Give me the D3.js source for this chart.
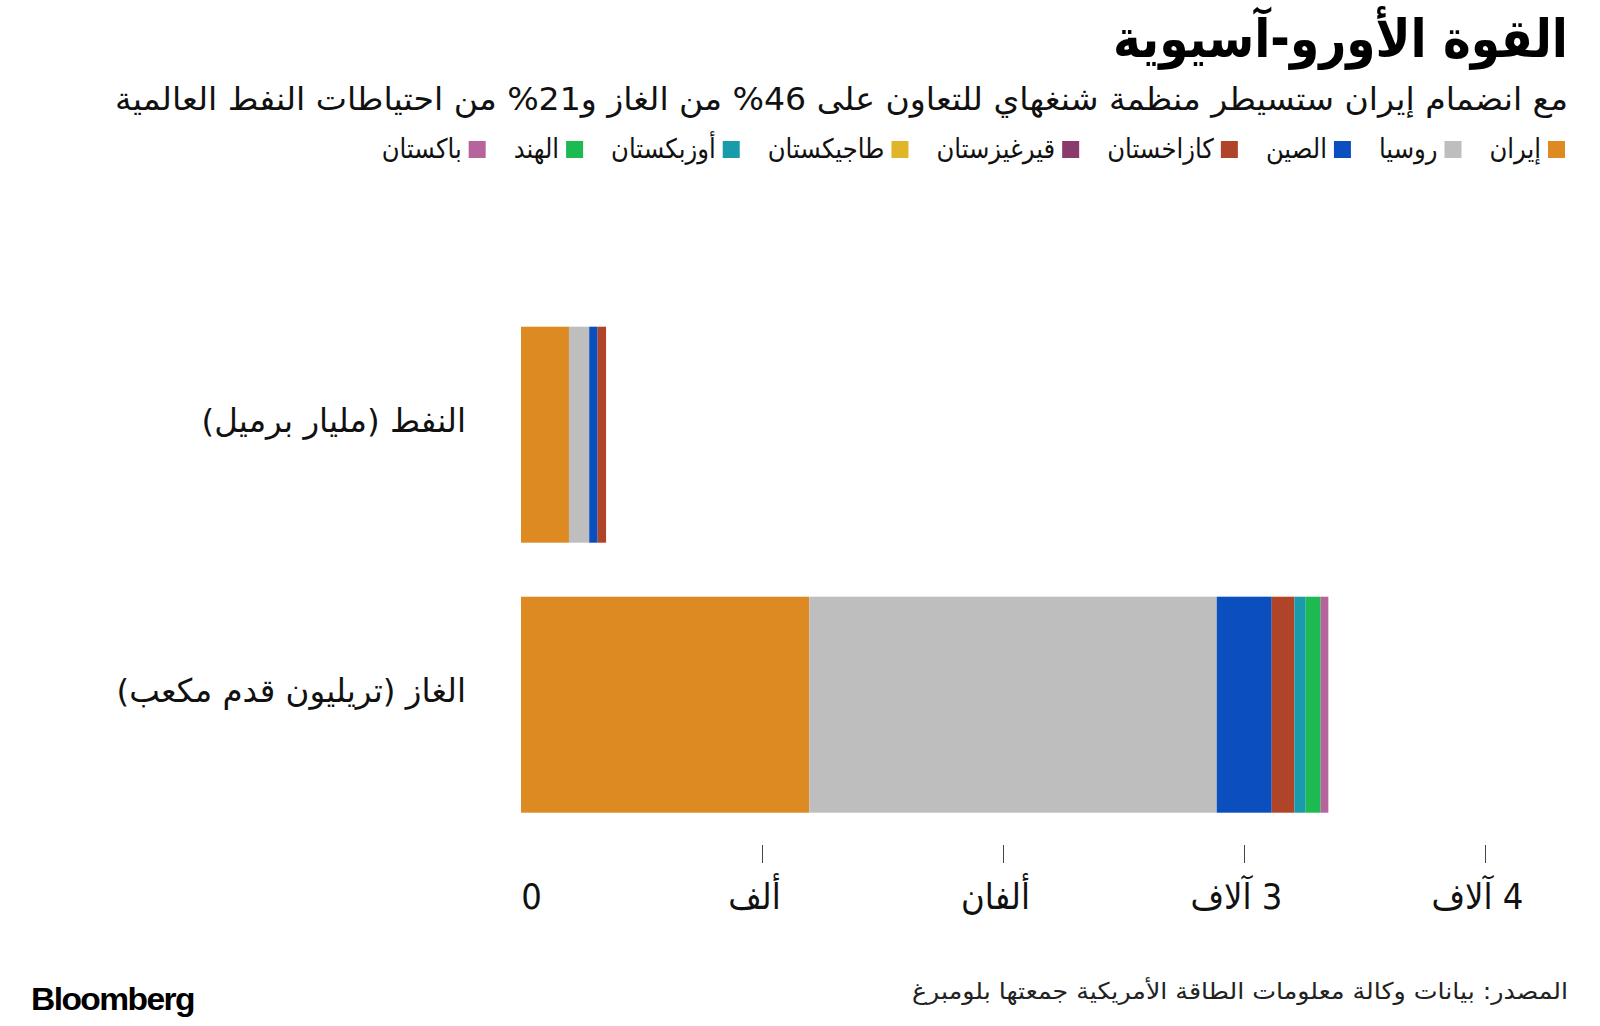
<!DOCTYPE html>
<html lang="ar">
<head>
<meta charset="utf-8">
<script src="https://cdn.jsdelivr.net/npm/d3@7"></script>
<style>
  html, body { margin: 0; padding: 0; background: #fff; }
  svg { display: block; }
  text { font-family: "DejaVu Sans", sans-serif; }
</style>
</head>
<body>
<svg id="chart" width="1600" height="1026"></svg>
<script>
// ---------- data ----------
const categories = ["النفط (مليار برميل)", "الغاز (تريليون قدم مكعب)"];
const countries = ["إيران", "روسيا", "الصين", "كازاخستان", "قيرغيزستان", "طاجيكستان", "أوزبكستان", "الهند", "باكستان"];
const colors = ["#dd8a22", "#bebebe", "#0a4fbd", "#b04428", "#8b3a6c", "#e0b52a", "#1a9bab", "#1dba52", "#b8649c"];
const oilValues = [199, 84, 35, 35, 0, 0, 0, 0, 0];
const gasValues = [1196, 1691, 228, 94, 0, 0, 47, 62, 32];
const tickValues = [0, 1000, 2000, 3000, 4000];
const tickLabels = ["0", "ألف", "ألفان", "3 آلاف", "4 آلاف"];
const title = "القوة الأورو-آسيوية";
const subtitle = "مع انضمام إيران ستسيطر منظمة شنغهاي للتعاون على 46% من الغاز و21% من احتياطات النفط العالمية";
const source = "المصدر: بيانات وكالة معلومات الطاقة الأمريكية جمعتها بلومبرغ";

// ---------- build ----------
const COND = "'DejaVu Sans Condensed', 'DejaVu Sans', sans-serif";
const svg = d3.select("#chart");
const rows = categories.map((c, i) => {
  const vals = i === 0 ? oilValues : gasValues;
  const o = { cat: c };
  countries.forEach((k, j) => o[k] = vals[j]);
  return o;
});
const stack = d3.stack().keys(countries)(rows);

const x = d3.scaleLinear().domain([0, 4000]).range([521, 1485]);
const y = d3.scaleBand().domain(categories).range([299.7, 839.7]).paddingInner(0.2).paddingOuter(0.1);
const color = d3.scaleOrdinal().domain(countries).range(colors);

// title & subtitle
svg.append("text")
  .attr("x", 1568).attr("y", 57)
  .attr("direction", "rtl").attr("text-anchor", "start")
  .style("font-family", COND)
  .style("font-weight", "bold").style("font-size", "53px").attr("fill", "#000")
  .attr("textLength", 455).attr("lengthAdjust", "spacingAndGlyphs")
  .text(title);

svg.append("text")
  .attr("x", 1568).attr("y", 110)
  .attr("direction", "rtl").attr("text-anchor", "start")
  .style("font-family", COND)
  .style("font-size", "32px").attr("fill", "#111")
  .attr("textLength", 1453).attr("lengthAdjust", "spacingAndGlyphs")
  .text(subtitle);

// legend (right to left)
const legend = svg.append("g");
let lx = 1565;
countries.forEach((k, i) => {
  legend.append("rect")
    .attr("x", lx - 17).attr("y", 141).attr("width", 17).attr("height", 17)
    .attr("fill", color(k));
  const t = legend.append("text")
    .attr("x", lx - 17 - 7).attr("y", 158)
    .attr("direction", "rtl").attr("text-anchor", "start")
    .style("font-family", COND)
    .style("font-size", "27px").attr("fill", "#111")
    .text(k);
  const w = t.node().getComputedTextLength();
  lx = lx - 17 - 7 - w - 28;
});

// bars
svg.append("g").selectAll("g").data(stack).join("g")
  .attr("fill", d => color(d.key))
  .selectAll("rect").data(d => d).join("rect")
  .attr("x", d => x(d[0]))
  .attr("y", d => y(d.data.cat))
  .attr("width", d => Math.max(0, x(d[1]) - x(d[0])))
  .attr("height", y.bandwidth());

// category labels
svg.append("g").selectAll("text").data(categories).join("text")
  .attr("x", 466)
  .attr("y", d => y(d) + y.bandwidth() / 2)
  .attr("dy", "-0.08em")
  .attr("direction", "rtl").attr("text-anchor", "start")
  .style("font-size", "32.5px").attr("fill", "#111")
  .text(d => d);

// axis
const axis = d3.axisBottom(x)
  .tickValues(tickValues)
  .tickSize(18)
  .tickPadding(20)
  .tickFormat((d, i) => tickLabels[i]);
const ax = svg.append("g").attr("transform", "translate(0,845)").call(axis);
ax.select(".domain").remove();
ax.selectAll(".tick line").attr("stroke", "#444").attr("stroke-width", 1);
ax.selectAll(".tick").filter(d => d === 0).select("line").remove();
ax.selectAll(".tick text")
  .style("font-family", COND)
  .style("font-size", "36px").attr("fill", "#111")
  .attr("direction", "rtl")
  .attr("dx", d => d === 0 ? 10 : -8);

// footer
svg.append("text")
  .attr("x", 1568).attr("y", 999)
  .attr("direction", "rtl").attr("text-anchor", "start")
  .style("font-family", COND)
  .style("font-size", "23px").attr("fill", "#222")
  .attr("textLength", 656).attr("lengthAdjust", "spacingAndGlyphs")
  .text(source);

svg.append("text")
  .attr("x", 31).attr("y", 1010)
  .style("font-family", "'Liberation Sans', Arial, sans-serif")
  .style("font-weight", "bold").style("font-size", "32px").attr("fill", "#000")
  .attr("letter-spacing", "-1.5")
  .attr("textLength", 163).attr("lengthAdjust", "spacingAndGlyphs")
  .text("Bloomberg");
</script>
</body>
</html>
